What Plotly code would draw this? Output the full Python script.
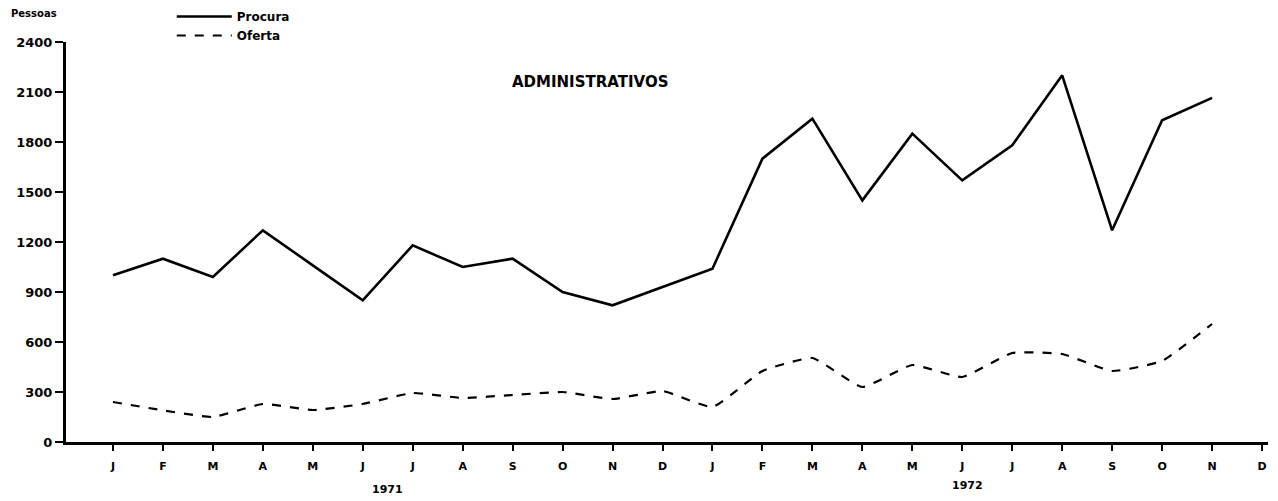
import plotly.graph_objects as go

meses = ["J", "F", "M", "A", "M", "J", "J", "A", "S", "O", "N", "D"] * 2
anos = ["1971", "1972"]

# valores (pessoas); dez/1972 sem dado
procura = [1000, 1100, 990, 1270, 1060, 850, 1180, 1050, 1100, 900, 820, 930,
           1040, 1700, 1940, 1450, 1850, 1570, 1780, 2200, 1270, 1930, 2065, None]
oferta = [240, 190, 150, 228, 192, 228, 294, 264, 282, 300, 258, 306,
          210, 426, 504, 330, 462, 390, 534, 528, 426, 486, 708, None]

y_ticks = [0, 300, 600, 900, 1200, 1500, 1800, 2100, 2400]

idx = list(range(len(meses)))
fonte = "DejaVu Sans"

fig = go.Figure()

fig.add_trace(
    go.Scatter(
        x=idx,
        y=procura,
        mode="lines",
        name="<b>Procura</b>",
        line=dict(color="black", width=2.6),
    )
)

fig.add_trace(
    go.Scatter(
        x=idx,
        y=oferta,
        mode="lines",
        name="<b>Oferta</b>",
        line=dict(color="black", width=2.2, dash="dash", shape="spline", smoothing=0.4),
    )
)

fig.add_annotation(
    x=0.436, y=2160, xref="paper", yref="y",
    text="<b>ADMINISTRATIVOS</b>", showarrow=False,
    font=dict(family=fonte, size=15, color="black"),
)

fig.add_annotation(
    x=-0.027, y=1.09, xref="paper", yref="paper",
    text="<b>Pessoas</b>", showarrow=False, xanchor="center",
    font=dict(family=fonte, size=10, color="black"),
)

# anos abaixo dos meses
for ano, pos, alt in zip(anos, [5.5, 17.1], [-0.14, -0.13]):
    fig.add_annotation(
        x=pos, y=alt, xref="x", yref="paper",
        text=f"<b>{ano}</b>", showarrow=False,
        font=dict(family=fonte, size=11, color="black"),
    )

# a página tem 8px de margem no body, por isso a figura é um pouco menor
fig.update_layout(
    width=1270,
    height=493,
    template="plotly_white",
    plot_bgcolor="white",
    paper_bgcolor="white",
    margin=dict(l=58, r=10, t=34, b=59, autoexpand=False),
    font=dict(family=fonte, color="black"),
    legend=dict(
        x=0.088, y=1.1, xanchor="left", yanchor="top",
        font=dict(family=fonte, size=12, color="black"),
        bgcolor="rgba(0,0,0,0)",
        tracegroupgap=0,
        itemwidth=55,
    ),
)

fig.update_xaxes(
    range=[-0.94, 23.12],
    tickvals=idx,
    ticktext=[f"<b>{m}</b>" for m in meses],
    ticks="outside",
    ticklen=6,
    tickwidth=2,
    tickcolor="black",
    ticklabelstandoff=6,
    tickfont=dict(family=fonte, size=11, color="black"),
    showgrid=False,
    zeroline=False,
    showline=True,
    linewidth=3,
    linecolor="black",
)

fig.update_yaxes(
    range=[0, 2400],
    tickvals=y_ticks,
    ticktext=[f"<b>{v}</b>" for v in y_ticks],
    ticks="outside",
    ticklen=8,
    tickwidth=2,
    tickcolor="black",
    tickfont=dict(family=fonte, size=13, color="black"),
    showgrid=False,
    zeroline=False,
    showline=True,
    linewidth=3,
    linecolor="black",
)

fig.write_html("out.html")
